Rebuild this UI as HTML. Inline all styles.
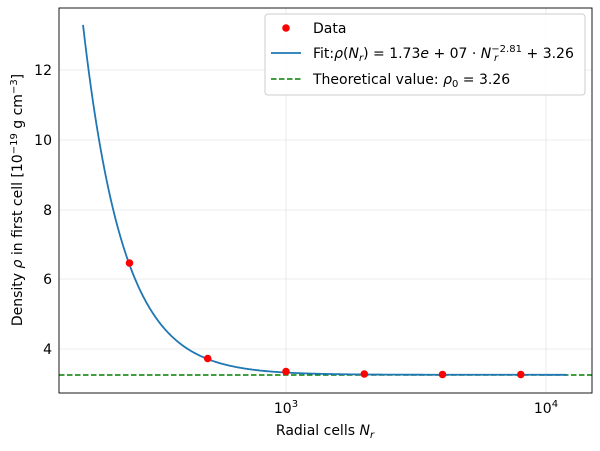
<!DOCTYPE html>
<html><head><meta charset="utf-8"><style>
body{margin:0;background:#fff;}
svg{font-family:"DejaVu Sans","Liberation Sans",sans-serif;}
</style></head><body>
<svg id="s" width="600" height="446" xmlns="http://www.w3.org/2000/svg">
<rect width="600" height="446" fill="#fff"/>
<g stroke="#e6e6e6" stroke-width="0.8">
<line x1="286" y1="8" x2="286" y2="393"/><line x1="546" y1="8" x2="546" y2="393"/>
<line x1="59" y1="70" x2="592" y2="70"/><line x1="59" y1="140" x2="592" y2="140"/>
<line x1="59" y1="210" x2="592" y2="210"/><line x1="59" y1="279" x2="592" y2="279"/>
<line x1="59" y1="349" x2="592" y2="349"/>
</g>
<g id="ticks" stroke="#000" stroke-width="0.8"></g>
<line x1="59" y1="375" x2="592" y2="375" stroke="#008000" stroke-width="1.5" stroke-dasharray="5.5,2.5"/>
<path id="curve" fill="none" stroke="#1f77b4" stroke-width="1.8"/>
<g fill="#ff0000">
<circle cx="129.5" cy="263" r="3.8"/>
<circle cx="207.7" cy="358.5" r="3.8"/>
<circle cx="286" cy="371.5" r="3.8"/>
<circle cx="364.3" cy="374" r="3.8"/>
<circle cx="442.5" cy="374.5" r="3.8"/>
<circle cx="520.8" cy="374.5" r="3.8"/>
</g>
<rect x="59" y="8" width="533" height="385" fill="none" stroke="#000" stroke-width="0.9"/>
<g font-size="14" fill="#000">
<text x="52" y="75" text-anchor="end">12</text>
<text x="52" y="145" text-anchor="end">10</text>
<text x="52" y="215" text-anchor="end">8</text>
<text x="52" y="284" text-anchor="end">6</text>
<text x="52" y="354" text-anchor="end">4</text>
<text x="286" y="413" text-anchor="middle">10<tspan font-size="10" dy="-6">3</tspan></text>
<text x="546" y="413" text-anchor="middle">10<tspan font-size="10" dy="-6">4</tspan></text>
<text x="325" y="435" text-anchor="middle">Radial cells <tspan font-style="italic">N</tspan><tspan font-size="10" dy="3" font-style="italic">r</tspan></text>
<text transform="translate(22,200) rotate(-90)" text-anchor="middle">Density <tspan font-style="italic">ρ</tspan> in first cell [10<tspan font-size="10" dy="-5">−19</tspan><tspan dy="5"> g cm</tspan><tspan font-size="10" dy="-5">−3</tspan><tspan dy="5">]</tspan></text>
</g>
<rect x="265" y="14" width="320" height="81" rx="3" fill="#fff" fill-opacity="0.85" stroke="#ccc"/>
<circle cx="286" cy="28" r="3.8" fill="#ff0000"/>
<line x1="271" y1="53" x2="301" y2="53" stroke="#1f77b4" stroke-width="1.8"/>
<line x1="271" y1="79" x2="301" y2="79" stroke="#008000" stroke-width="1.5" stroke-dasharray="5.5,2.5"/>
<g font-size="14" fill="#000">
<text x="313" y="33">Data</text>
<text x="313" y="58">Fit:<tspan font-style="italic">ρ</tspan>(<tspan font-style="italic">N</tspan><tspan font-size="10" dy="3" font-style="italic">r</tspan><tspan dy="-3">) = 1.73</tspan><tspan font-style="italic">e</tspan> + 07 · <tspan font-style="italic">N</tspan><tspan font-size="10" dy="-6">−2.81</tspan><tspan dx="-28" font-size="10" dy="9" font-style="italic">r</tspan><tspan dx="24" dy="-3"> + 3.26</tspan></text>
<text x="313" y="84">Theoretical value: <tspan font-style="italic">ρ</tspan><tspan font-size="10" dy="3">0</tspan><tspan dy="-3"> = 3.26</tspan></text>
</g>
<script>
var X=function(n){return 286+260*Math.log10(n/1000);};
var Y=function(v){return 349-(v-4)*34.85;};
var f=function(n){return 1.73e7*Math.pow(n,-2.81)+3.26;};
var d="";for(var i=0;i<=400;i++){var n=165.7*Math.pow(12000/165.7,i/400);d+=(i?"L":"M")+X(n).toFixed(2)+","+Y(f(n)).toFixed(2);}
document.getElementById("curve").setAttribute("d",d);
var t="";[1000,10000].forEach(function(n){t+='<line x1="'+X(n)+'" y1="393" x2="'+X(n)+'" y2="397"/>';});
[200,300,400,500,600,700,800,900,2000,3000,4000,5000,6000,7000,8000,9000].forEach(function(n){t+='<line x1="'+X(n)+'" y1="393" x2="'+X(n)+'" y2="395.5" stroke-width="0.6"/>';});
[70,140,210,279,349].forEach(function(y){t+='<line x1="55" y1="'+y+'" x2="59" y2="'+y+'"/>';});
document.getElementById("ticks").innerHTML=t;
</script>
</svg>
</body></html>
